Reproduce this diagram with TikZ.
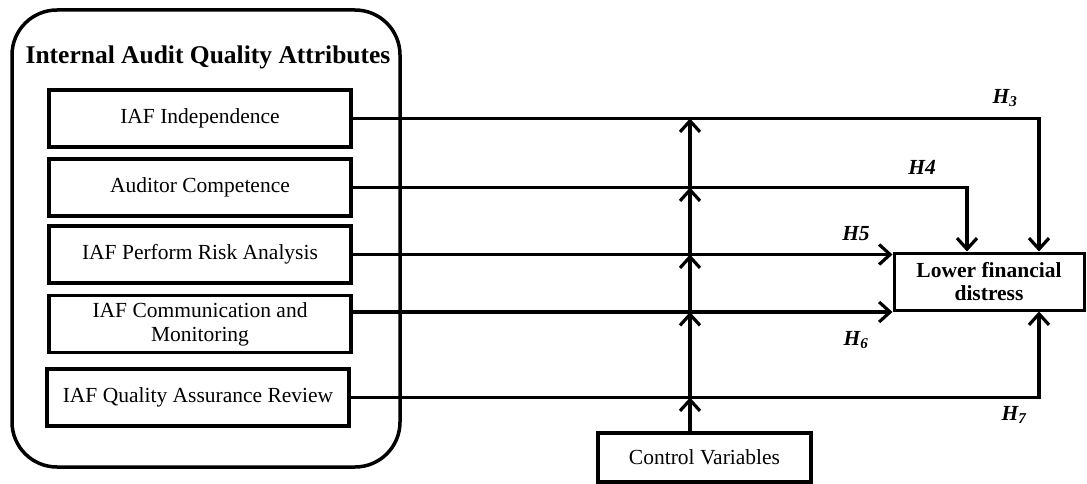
\documentclass[tikz,border=0pt]{standalone}
\usepackage{fontspec}
\setmainfont{Liberation Serif}
\usetikzlibrary{arrows.meta}

\begin{document}
\begin{tikzpicture}[x=1pt, y=-1pt, >={Straight Barb[length=11pt,width=20pt]},
    attr/.style={draw, line width=3.5pt, minimum width=302pt, minimum height=57pt,
        align=center, font=\fontsize{21.5}{24}\selectfont},
    link/.style={line width=3.2pt},
    hyp/.style={font=\fontsize{21.5}{24}\selectfont\bfseries\itshape}]
    \useasboundingbox (0,0) rectangle (1087,484);

    % group of attributes
    \node[draw, line width=3.5pt, rounded corners=45pt, minimum width=388pt,
        minimum height=457pt] (group) at (206,238.5) {};
    \node[font=\fontsize{25.5}{28}\selectfont\bfseries] (title) at (208,57)
        {Internal Audit Quality Attributes};

    \node[attr] (indep) at (200,118.5) {IAF Independence};
    \node[attr] (comp) at (200,187.5) {Auditor Competence};
    \node[attr] (risk) at (200,254.5) {IAF Perform Risk Analysis};
    \node[attr, inner sep=1pt] (comm) at (200,324) {IAF Communication and\\Monitoring};
    \node[attr] (qa) at (198,397.5) {IAF Quality Assurance Review};

    \node[attr, line width=3pt, minimum width=190pt, font=\fontsize{21.5}{23}\selectfont\bfseries]
        (lower) at (989,281.5) {Lower financial\\distress};
    \node[attr, minimum width=213pt, minimum height=49pt] (ctrl) at (704.5,457.5)
        {Control Variables};

    \coordinate (mx) at (690,0);
    \coordinate (h3) at ([xshift=50pt]lower.north);
    \coordinate (h4) at ([xshift=-22pt]lower.north);
    \coordinate (h7) at ([xshift=50pt]lower.south);
    \coordinate (cm) at ([yshift=12pt]comm.east);

    % paths to the outcome
    \draw[link, ->] (indep.east) -| (h3);
    \draw[link, ->] (comp.east) -| (h4);
    \draw[link, ->] (risk.east) -- (risk.east -| lower.west);
    \draw[link, ->] (cm) -- (cm -| lower.west);
    \draw[link, ->] (qa.east) -| (h7);

    % control variables
    \draw[link, ->] (ctrl.north -| mx) -- (qa.east -| mx);
    \draw[link, ->] (qa.east -| mx) -- (cm -| mx);
    \draw[link, ->] (cm -| mx) -- (risk.east -| mx);
    \draw[link, ->] (risk.east -| mx) -- (comp.east -| mx);
    \draw[link, ->] (comp.east -| mx) -- (indep.east -| mx);

    \node[hyp] (lh3) at (1005,98) {H\textsubscript{3}};
    \node[hyp] (lh4) at (922,167) {H4};
    \node[hyp] (lh5) at (856,234) {H5};
    \node[hyp] (lh6) at (856,340) {H\textsubscript{6}};
    \node[hyp] (lh7) at (1014,415) {H\textsubscript{7}};
\end{tikzpicture}
\end{document}
